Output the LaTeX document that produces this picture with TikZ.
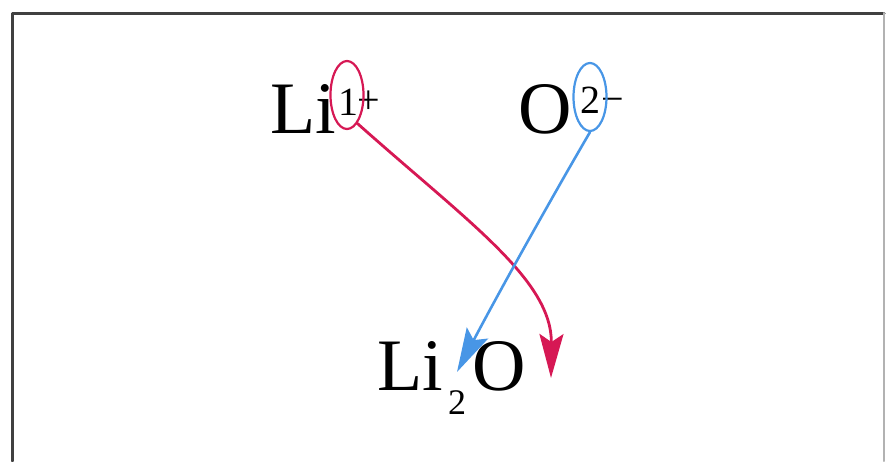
\documentclass[tikz,border=0pt]{standalone}
\usepackage{fontspec}
\setmainfont{Liberation Serif}
\usetikzlibrary{arrows.meta,shapes.geometric}
\definecolor{ionred}{RGB}{214,24,84}
\definecolor{ionblue}{RGB}{72,150,230}
\begin{document}
\begin{tikzpicture}[x=1pt, y=-1pt, line cap=round, line join=round,
  big/.style={font=\fontsize{74}{80}\selectfont, inner sep=0pt, anchor=base west},
  small/.style={font=\fontsize{40}{44}\selectfont, inner sep=0pt, anchor=base west},
  ring/.style={draw, ellipse, line width=2.2pt, minimum width=33pt, minimum height=68pt, inner sep=0pt},
  >={Stealth[length=44pt, width=24pt, inset=8pt]}]
\useasboundingbox (0,0) rectangle (886,461);
\draw[line width=3pt, black!75] (12,461) -- (12,13) -- (884,13);
\draw[line width=2pt, black!30] (884,13) -- (884,461);
% ions
\node[big] (li) at (270,133) {Li};
\node[small] (lione) at (338,115) {1};
\node[small] (liplus) at (357,113) {+};
\node[big] (o) at (518,133) {O};
\node[small] (otwo) at (580,113) {2};
\node[small] (ominus) at (601,112) {−};
\node[ring, draw=ionred] (liring) at (347,95) {};
\node[ring, draw=ionblue] (oring) at (590,97) {};
% product
\node[big] (lii) at (377,390) {Li};
\node[font=\fontsize{36}{40}\selectfont, inner sep=0pt, anchor=base west] (sub) at (448,414) {2};
\node[big] (ox) at (472,390) {O};
\coordinate (redtip) at (551,378);
\coordinate (bluetip) at (457,372);
\draw[->, ionred, line width=2.8pt] (liring.-70) .. controls (468,222) and (552,280) .. (redtip);
\draw[->, ionblue, line width=2.6pt] (oring.south) .. controls (555,192) and (500,290) .. (bluetip);
\end{tikzpicture}
\end{document}
